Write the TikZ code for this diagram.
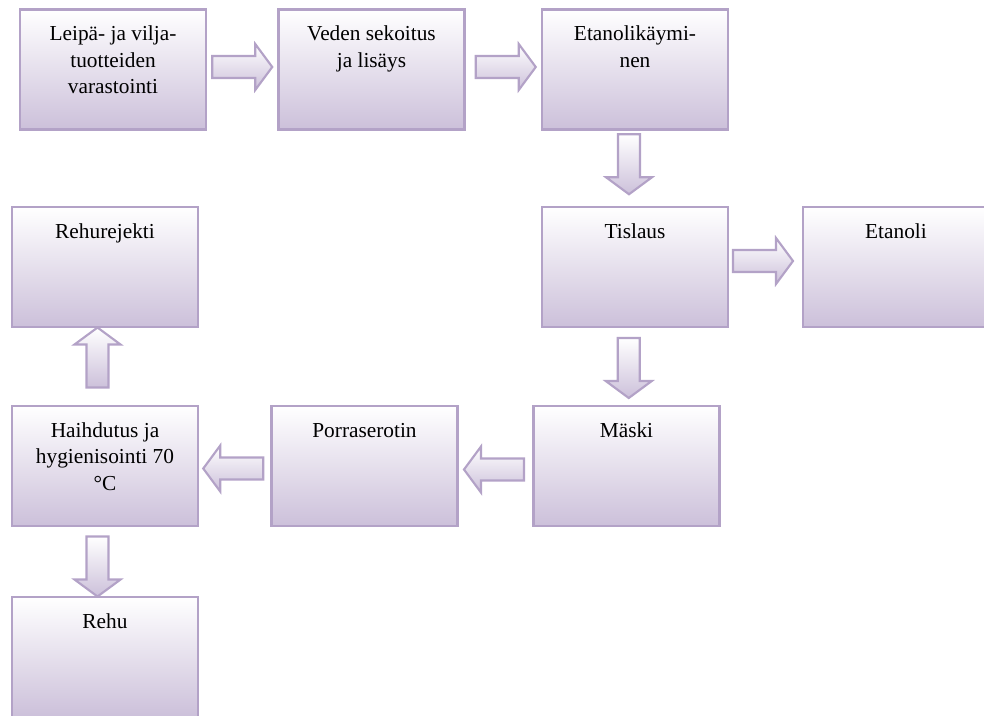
\documentclass[tikz,border=0pt]{standalone}
\usepackage{fontspec}
\setmainfont{Liberation Serif}
\usetikzlibrary{calc,positioning}

\definecolor{boxline}{HTML}{B3A2C7}
\definecolor{boxfill}{HTML}{CCC0DA}

\tikzset{
        stage/.style={rectangle, draw=boxline, line width=2pt, top color=white, bottom color=boxfill, inner sep=0pt, outer sep=0pt},
        arrowbox/.style={draw=boxline, line width=1.6pt, top color=white, bottom color=boxfill, line join=miter}
}

\newcommand{\stagetext}[1]{\parbox[c][90pt][t]{139.5pt}{\centering\fontsize{16}{20}\selectfont\rule{0pt}{23.25pt}#1}}

\newcommand{\flowarrow}[3]{%
        \coordinate (ac) at #1;
        \foreach \a/\b [count=\i] in {-30/-11, 13/-11, 13/-23, 30/0, 13/23, 13/11, -30/11}
                \coordinate (ap\i) at ($(ac)+({(\a)*(#2)-(\b)*(#3)},{(\a)*(#3)+(\b)*(#2)})$);
        \draw[arrowbox] (ap1) -- (ap2) -- (ap3) -- (ap4) -- (ap5) -- (ap6) -- (ap7) -- cycle;
}

\begin{document}
\begin{tikzpicture}[x=0.75pt, y=-0.75pt]
        \useasboundingbox (0,0) rectangle (984,715);

        \node[stage] (store) at (113,69.5) {\stagetext{Leipä- ja vilja-\\tuotteiden\\varastointi}};
        \node[stage] (water) at (371.5,69.5) {\stagetext{Veden sekoitus\\ja lisäys}};
        \node[stage] (ferment) at (635,69.5) {\stagetext{Etanolikäymi-\\nen}};
        \node[stage] (distil) at (635,267) {\stagetext{Tislaus}};
        \node[stage] (ethanol) at (896,267) {\stagetext{Etanoli}};
        \node[stage] (reject) at (105,267) {\stagetext{Rehurejekti}};
        \node[stage] (evap) at (105,466) {\stagetext{Haihdutus ja\\hygienisointi 70\\°C}};
        \node[stage] (sieve) at (364.5,466) {\stagetext{Porraserotin}};
        \node[stage] (mash) at (626.5,466) {\stagetext{Mäski}};
        \node[stage] (feed) at (105,657) {\stagetext{Rehu}};

        \flowarrow{($(store.east)!.5!(water.west)+(0,-2.5)$)}{1}{0}
        \flowarrow{($(water.east)!.5!(ferment.west)+(2.5,-2.5)$)}{1}{0}
        \flowarrow{($(ferment.south)!.5!(distil.north)+(-6,-4)$)}{0}{1}
        \flowarrow{($(distil.east)!.5!(ethanol.west)+(-2.5,-6)$)}{1}{0}
        \flowarrow{($(distil.south)!.5!(mash.north)+(-2,1.5)$)}{0}{1}
        \flowarrow{($(mash.west)!.5!(sieve.east)+(-1.5,3.5)$)}{-1}{0}
        \flowarrow{($(sieve.west)!.5!(evap.east)+(-1.5,2.5)$)}{-1}{0}
        \flowarrow{($(evap.north)!.5!(reject.south)+(-7.5,-9)$)}{0}{-1}
        \flowarrow{($(evap.south)!.5!(feed.north)+(-7.5,5)$)}{0}{1}
\end{tikzpicture}
\end{document}
